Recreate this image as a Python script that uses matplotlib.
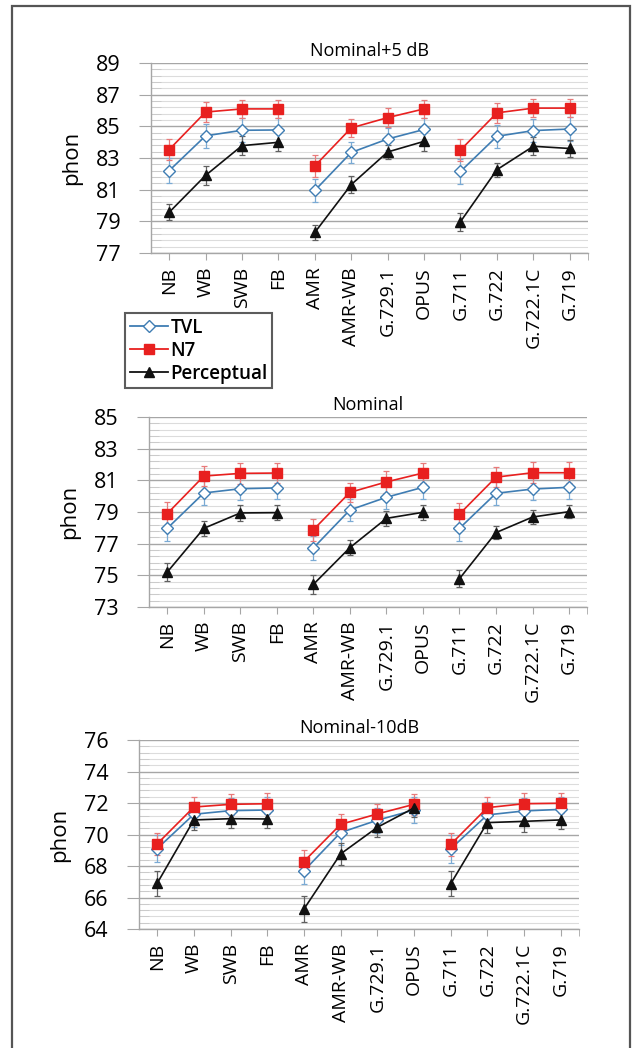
import matplotlib
matplotlib.use("Agg")
import numpy as np
import matplotlib.pyplot as plt
from matplotlib.lines import Line2D
from matplotlib.patches import Rectangle

plt.rcParams['font.family'] = ['Open Sans', 'DejaVu Sans']

codecs = ["NB", "WB", "SWB", "FB", "AMR", "AMR-WB", "G.729.1", "OPUS",
          "G.711", "G.722", "G.722.1C", "G.719"]
groups = [(0, 4), (4, 8), (8, 12)]

# Nominal+5 dB
tvl_p5 = [82.2, 84.4, 84.75, 84.77, 80.95, 83.35, 84.2, 84.8, 82.15, 84.37, 84.73, 84.83]
n7_p5 = [83.53, 85.9, 86.1, 86.1, 82.5, 84.9, 85.55, 86.1, 83.5, 85.85, 86.15, 86.15]
per_p5 = [79.57, 81.9, 83.78, 83.99, 78.3, 81.32, 83.38, 84.05, 78.98, 82.26, 83.74, 83.6]
tvl_p5_err = [0.78, 0.76, 0.75, 0.75, 0.72, 0.65, 0.72, 0.72, 0.8, 0.74, 0.75, 0.75]
n7_p5_err = [0.67, 0.63, 0.57, 0.57, 0.67, 0.57, 0.61, 0.57, 0.67, 0.63, 0.55, 0.55]
per_p5_err = [0.5, 0.61, 0.6, 0.57, 0.47, 0.53, 0.47, 0.58, 0.56, 0.45, 0.57, 0.56]

# Nominal
tvl_nom = [77.97, 80.2, 80.47, 80.52, 76.73, 79.13, 79.93, 80.56, 77.97, 80.18, 80.45, 80.56]
n7_nom = [78.9, 81.27, 81.44, 81.46, 77.88, 80.24, 80.9, 81.46, 78.87, 81.2, 81.48, 81.48]
per_nom = [75.21, 77.97, 78.94, 78.96, 74.43, 76.75, 78.6, 78.98, 74.79, 77.7, 78.68, 79.02]
tvl_nom_err = [0.78, 0.78, 0.72, 0.72, 0.75, 0.72, 0.75, 0.72, 0.78, 0.75, 0.72, 0.72]
n7_nom_err = [0.72, 0.65, 0.65, 0.65, 0.7, 0.62, 0.68, 0.62, 0.72, 0.65, 0.65, 0.65]
per_nom_err = [0.57, 0.48, 0.5, 0.48, 0.58, 0.46, 0.48, 0.47, 0.52, 0.42, 0.42, 0.42]

# Nominal-10dB
tvl_m10 = [69.11, 71.29, 71.52, 71.56, 67.7, 70.13, 70.91, 71.56, 69.09, 71.25, 71.5, 71.6]
n7_m10 = [69.41, 71.75, 71.92, 71.96, 68.29, 70.65, 71.31, 71.92, 69.37, 71.71, 71.96, 71.99]
per_m10 = [66.91, 70.93, 71.01, 70.99, 65.27, 68.77, 70.46, 71.69, 66.87, 70.76, 70.84, 70.93]
tvl_m10_err = [0.87, 0.8, 0.8, 0.8, 0.85, 0.8, 0.8, 0.8, 0.87, 0.8, 0.8, 0.8]
n7_m10_err = [0.7, 0.65, 0.65, 0.65, 0.7, 0.65, 0.65, 0.65, 0.7, 0.65, 0.65, 0.65]
per_m10_err = [0.8, 0.65, 0.62, 0.6, 0.8, 0.7, 0.6, 0.6, 0.8, 0.65, 0.65, 0.6]

panels = [
    dict(title="Nominal+5 dB", ylim=(77, 89), rect=[0.237, 0.7586, 0.686, 0.1813],
         tvl=tvl_p5, n7=n7_p5, per=per_p5,
         tvl_err=tvl_p5_err, n7_err=n7_p5_err, per_err=per_p5_err),
    dict(title="Nominal", ylim=(73, 85), rect=[0.234, 0.4208, 0.688, 0.1813],
         tvl=tvl_nom, n7=n7_nom, per=per_nom,
         tvl_err=tvl_nom_err, n7_err=n7_nom_err, per_err=per_nom_err),
    dict(title="Nominal-10dB", ylim=(64, 76), rect=[0.218, 0.1135, 0.691, 0.1803],
         tvl=tvl_m10, n7=n7_m10, per=per_m10,
         tvl_err=tvl_m10_err, n7_err=n7_m10_err, per_err=per_m10_err),
]

# series styles: (key, label, line colour, errorbar colour, marker, size, face)
series = [
    ("tvl", "TVL", "#3f7db3", "#7aaad4", "D", 6, "white"),
    ("n7", "N7", "#e8201f", "#e87a7a", "s", 7, "#e8201f"),
    ("per", "Perceptual", "#111111", "#606060", "^", 7, "#111111"),
]

fig = plt.figure(figsize=(6.37, 10.48), dpi=100)
fig.patches.append(Rectangle((0.019, -0.05), 0.97, 1.0443, transform=fig.transFigure,
                             fill=False, edgecolor="#555555", linewidth=1.6))

x = list(range(len(codecs)))
for p in panels:
    ax = fig.add_axes(p["rect"])
    for key, label, col, ecol, mk, ms, face in series:
        vals = p[key]
        errs = p[key + "_err"]
        for a, b in groups:
            ax.errorbar(x[a:b], vals[a:b], yerr=errs[a:b], fmt="none", ecolor=ecol,
                        elinewidth=0.9, capsize=2.5, capthick=0.9, zorder=3)
            ax.plot(x[a:b], vals[a:b], color=col, linewidth=1.2, marker=mk,
                    markersize=ms, markerfacecolor=face, markeredgecolor=col,
                    markeredgewidth=1.0, zorder=4)
    lo, hi = p["ylim"]
    ax.set_xlim(-0.5, 11.5)
    ax.set_ylim(lo, hi)
    ax.set_yticks(np.arange(lo, hi + 0.1, 2))
    ax.set_yticks(np.arange(lo, hi + 0.01, 0.4), minor=True)
    ax.grid(which="major", axis="y", color="#a6a6a6", linewidth=1.0)
    ax.grid(which="minor", axis="y", color="#dcdcdc", linewidth=0.8)
    ax.set_axisbelow(True)
    for s in ("top", "right"):
        ax.spines[s].set_visible(False)
    for s in ("left", "bottom"):
        ax.spines[s].set_color("#a6a6a6")
        ax.spines[s].set_linewidth(1.0)
    ax.set_xticks(x)
    ax.set_xticklabels(codecs, rotation=90, fontsize=14)
    ax.set_xticks([11.5], minor=True)
    ax.tick_params(axis="x", which="both", length=5, color="#a6a6a6", pad=5)
    ax.tick_params(axis="y", which="major", length=9, color="#a6a6a6", pad=13, labelsize=15.5)
    ax.tick_params(axis="y", which="minor", direction="in", length=7, color="#c8c8c8")
    ax.set_ylabel("phon", fontsize=16, labelpad=10)
    ax.set_title(p["title"], fontsize=13, pad=5)

handles = [Line2D([], [], color=col, linewidth=1.3, marker=mk, markersize=ms,
                  markerfacecolor=face, markeredgecolor=col, label=label)
           for key, label, col, ecol, mk, ms, face in series]
leg = fig.legend(handles=handles, loc="upper left", bbox_to_anchor=(0.197, 0.701),
                 frameon=True, fancybox=False, handlelength=2.0,
                 handletextpad=0.15, labelspacing=0.15, borderpad=0.25, borderaxespad=0,
                 prop=dict(weight="semibold", size=13.5))
leg.get_frame().set_edgecolor("#333333")
leg.get_frame().set_linewidth(1.5)

fig.savefig("out.png", dpi=100)
